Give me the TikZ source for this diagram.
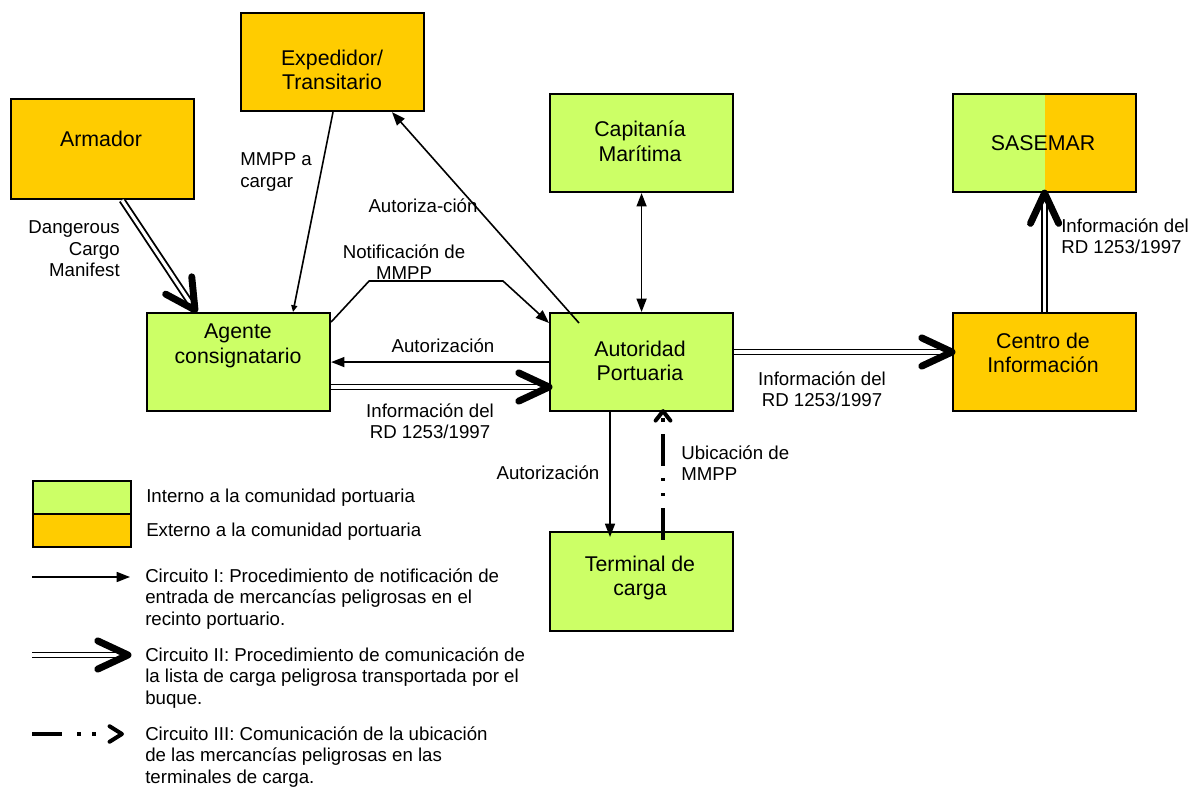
\documentclass[tikz,border=0pt]{standalone}
\usepackage{fontspec}
\setmainfont{Liberation Sans}
\usetikzlibrary{calc,arrows.meta}
\definecolor{intgreen}{HTML}{CCFF66}
\definecolor{extorange}{HTML}{FFCC00}
\begin{document}
\begin{tikzpicture}[x=0.75pt,y=-0.75pt,
  every node/.style={font=\fontsize{14}{16.1}\selectfont},
  box/.style={draw, line width=1.6pt, minimum width=137.25pt, minimum height=73.5pt, inner sep=0pt, anchor=north west},
  legbox/.style={draw, line width=1.6pt, minimum width=73.5pt, minimum height=24.75pt, inner sep=0pt, anchor=north west},
  txt/.style={align=center, inner sep=0pt},
  btxt/.style={align=center, inner sep=0pt, font=\fontsize{16}{18.4}\selectfont},
  ltxt/.style={align=left, inner sep=0pt, anchor=west},
  thinarrow/.style={line width=1.2pt, -{Triangle[length=10pt, width=7.5pt]}},
  smallarrow/.style={line width=1.2pt, -{Triangle[length=5pt, width=4.5pt]}},
  dbl/.style={double=white, double distance=2.4pt, line width=1.4pt, shorten >=3pt},
  chev/.style={line width=5.2pt, line cap=round, line join=round},
  schev/.style={line width=3pt, line cap=round, line join=round},
  dashdot/.style={line width=3pt, dash pattern=on 24pt off 9pt on 2.4pt off 9pt on 2.4pt off 9pt}
]
\useasboundingbox (0,0) rectangle (1196,787);

% boxes
\node[box, fill=extorange] (exp) at (240,12) {};
\node[btxt] (expt) at (332,70) {Expedidor/\\Transitario};
\node[box, fill=extorange, minimum height=75pt] (arm) at (10,98) {};
\node[btxt] (armt) at (101,139) {Armador};
\node[box, fill=intgreen] (cap) at (549,93) {};
\node[btxt] (capt) at (640,141) {Capitanía\\Marítima};
\node[box, fill=extorange, path picture={\fill[intgreen] (path picture bounding box.north west) rectangle (path picture bounding box.south);}] (sas) at (952,93) {};
\node[btxt] (sast) at (1043,143) {SASEMAR};
\node[box, fill=intgreen] (age) at (146,312) {};
\node[btxt] (aget) at (238,346) {Agente\\consignatario};
\node[box, fill=intgreen] (aut) at (549,312) {};
\node[btxt] (autt) at (640,361) {Autoridad\\Portuaria};
\node[box, fill=extorange] (cen) at (952,312) {};
\node[btxt] (cent) at (1043,353) {Centro de\\Información};
\node[box, fill=intgreen, minimum height=74.25pt] (ter) at (549,531) {};
\node[btxt] (tert) at (640,578) {Terminal de\\carga};

% 1 Armador -> Agente (double)
\coordinate (s1) at ($(arm.south west)+(112,0)$);
\coordinate (t1) at ($(age.north west)+(49,-2)$);
\draw[dbl] (s1) -- (t1);
\draw[chev] ($(t1)!25pt!28:(s1)$) -- (t1) -- ($(t1)!25pt!-28:(s1)$);
\node[txt, align=right, anchor=east] (dcm) at (120,249) {Dangerous\\Cargo\\Manifest};

% 2 Expedidor -> Agente
\draw[smallarrow] ($(exp.south west)+(93,0)$) -- ($(age.north west)+(147,0)$);
\node[ltxt] (mmppa) at (240,172) {MMPP a\\cargar};

% 3 Autoridad -> Expedidor
\draw[thinarrow] ($(aut.north west)+(30,11)$) -- ($(exp.south west)+(152,0)$);
\node[txt] (autz1) at (423,206) {Autoriza-ción};

% 4 Notificacion
\draw[thinarrow] ($(age.north east)+(0,10)$) -- ($(age.north east)+(38,-31)$) -- ($(aut.north west)+(-46,-31)$) -- ($(aut.north west)+(0,11)$);
\node[txt] (notif) at (404,262) {Notificación de\\MMPP};

% 5 Autoridad -> Agente
\draw[thinarrow] (aut.west) -- (age.east);
\node[txt] (autz2) at (443,346) {Autorización};

% 6 Agente -> Autoridad (double)
\coordinate (s6) at ($(age.north east)+(0,75)$);
\coordinate (t6) at ($(aut.north west)+(0,75)$);
\draw[dbl] (s6) -- (t6);
\draw[chev] ($(t6)!25pt!25:(s6)$) -- (t6) -- ($(t6)!25pt!-25:(s6)$);
\node[txt] (inf1) at (430,421) {Información del\\RD 1253/1997};

% 7 Capitania <-> Autoridad
\draw[line width=1.2pt, {Triangle[length=10pt, width=7.5pt]}-{Triangle[length=10pt, width=7.5pt]}] (cap.south) -- (aut.north);

% 8 Autoridad -> Centro (double)
\coordinate (s8) at ($(aut.north east)+(0,40)$);
\coordinate (t8) at ($(cen.north west)+(0,40)$);
\draw[dbl] (s8) -- (t8);
\draw[chev] ($(t8)!25pt!25:(s8)$) -- (t8) -- ($(t8)!25pt!-25:(s8)$);
\node[txt] (inf2) at (822,389) {Información del\\RD 1253/1997};

% 9 Centro -> SASEMAR (double)
\draw[dbl] (cen.north) -- (sas.south);
\draw[chev] ($(sas.south)!25pt!25:(cen.north)$) -- (sas.south) -- ($(sas.south)!25pt!-25:(cen.north)$);
\node[ltxt] (inf3) at (1061,236) {Información del\\RD 1253/1997};

% 10 Autoridad -> Terminal
\draw[thinarrow] ($(aut.south west)+(61,0)$) -- ($(ter.north west)+(61,6)$);
\node[txt] (autz3) at (548,473) {Autorización};

% 11 Terminal -> Autoridad (dash dot dot)
\coordinate (s11) at ($(ter.north west)+(114,9)$);
\coordinate (t11) at ($(aut.south west)+(114,-1)$);
\draw[dashdot] (s11) -- (t11);
\draw[schev] ($(t11)!9pt!38:(s11)$) -- (t11) -- ($(t11)!9pt!-38:(s11)$);
\node[ltxt] (ubic) at (681,463) {Ubicación de\\MMPP};

% legend
\node[legbox, fill=intgreen] (lg) at (32,480) {};
\node[legbox, fill=extorange] (lo) at (32,513) {};
\node[ltxt] (lgt) at (146,498) {Interno a la comunidad portuaria};
\node[ltxt] (lot) at (146,532) {Externo a la comunidad portuaria};

\coordinate (l1a) at (32,577);
\coordinate (l1b) at (130,577);
\draw[thinarrow] (l1a) -- (l1b);
\node[ltxt] (l1t) at (145,599) {Circuito I: Procedimiento de notificación de\\entrada de mercancías peligrosas en el\\recinto portuario.};

\coordinate (l2a) at (32,655);
\coordinate (l2b) at (128,655);
\draw[dbl] (l2a) -- (l2b);
\draw[chev] ($(l2b)!25pt!25:(l2a)$) -- (l2b) -- ($(l2b)!25pt!-25:(l2a)$);
\node[ltxt] (l2t) at (145,678) {Circuito II: Procedimiento de comunicación de\\la lista de carga peligrosa transportada por el\\buque.};

\coordinate (l3a) at (32,734);
\coordinate (l3b) at (122,734);
\draw[line width=3pt, dash pattern=on 22.5pt off 11.25pt on 3pt off 8.25pt on 3pt off 30pt] (l3a) -- (l3b);
\draw[schev] ($(l3b)!11pt!32:(l3a)$) -- (l3b) -- ($(l3b)!11pt!-32:(l3a)$);
\node[ltxt] (l3t) at (145,757) {Circuito III: Comunicación de la ubicación\\de las mercancías peligrosas en las\\terminales de carga.};
\end{tikzpicture}
\end{document}
